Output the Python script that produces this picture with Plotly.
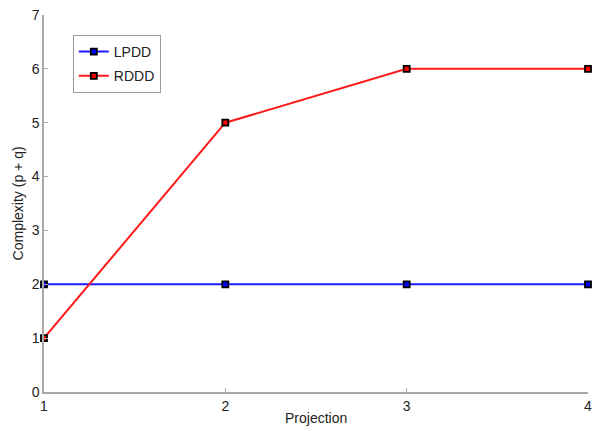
import plotly.graph_objects as go

projection = [1, 2, 3, 4]
lpdd = [2, 2, 2, 2]
rddd = [1, 5, 6, 6]

fig = go.Figure()
fig.add_trace(go.Scatter(x=projection, y=lpdd, name="LPDD", mode="lines+markers",
                         legendgroup="a",
                         line=dict(color="#1a1aff", width=2),
                         marker=dict(symbol="square", size=6, color="#0000ff",
                                     line=dict(color="black", width=1.8)), cliponaxis=False))
fig.add_trace(go.Scatter(x=projection, y=rddd, name="RDDD", mode="lines+markers",
                         legendgroup="b",
                         line=dict(color="#ff1a1a", width=2),
                         marker=dict(symbol="square", size=6, color="#ff0000",
                                     line=dict(color="black", width=1.8)), cliponaxis=False))

axis_common = dict(showline=True, linecolor="#a8a8a8", linewidth=1.5, ticks="inside",
                   ticklen=4, tickcolor="#a8a8a8", showgrid=False, zeroline=False,
                   mirror=False, automargin=False, tickfont=dict(size=14, color="#222"))
fig.update_layout(
    width=594, height=431,
    margin=dict(l=44, r=6, t=15, b=39),
    paper_bgcolor="white", plot_bgcolor="white",
    font=dict(family="Liberation Sans, Arial, sans-serif", color="#222"),
    xaxis=dict(range=[1, 4], tickvals=[1, 2, 3, 4], **axis_common),
    yaxis=dict(range=[0, 7], tickvals=[0, 1, 2, 3, 4, 5, 6, 7], **axis_common),
    legend=dict(x=0.053, y=0.947, xanchor="left", yanchor="top", bgcolor="white",
                bordercolor="#999", borderwidth=1, font=dict(size=14), itemwidth=30,
                tracegroupgap=3),
    showlegend=True,
    annotations=[
        dict(text="Projection", xref="paper", yref="paper", x=0.5, y=-0.068,
             xanchor="center", yanchor="middle", showarrow=False, font=dict(size=14)),
        dict(text="Complexity (p + q)", xref="paper", yref="paper", x=-0.048, y=0.5,
             xanchor="center", yanchor="middle", textangle=-90, showarrow=False,
             font=dict(size=14)),
    ],
)
# remove the browser's default 8px body margin so the figure fills the window exactly
fig.write_html("out.html", config={"displayModeBar": False},
               post_script="document.body.style.margin='0';")
